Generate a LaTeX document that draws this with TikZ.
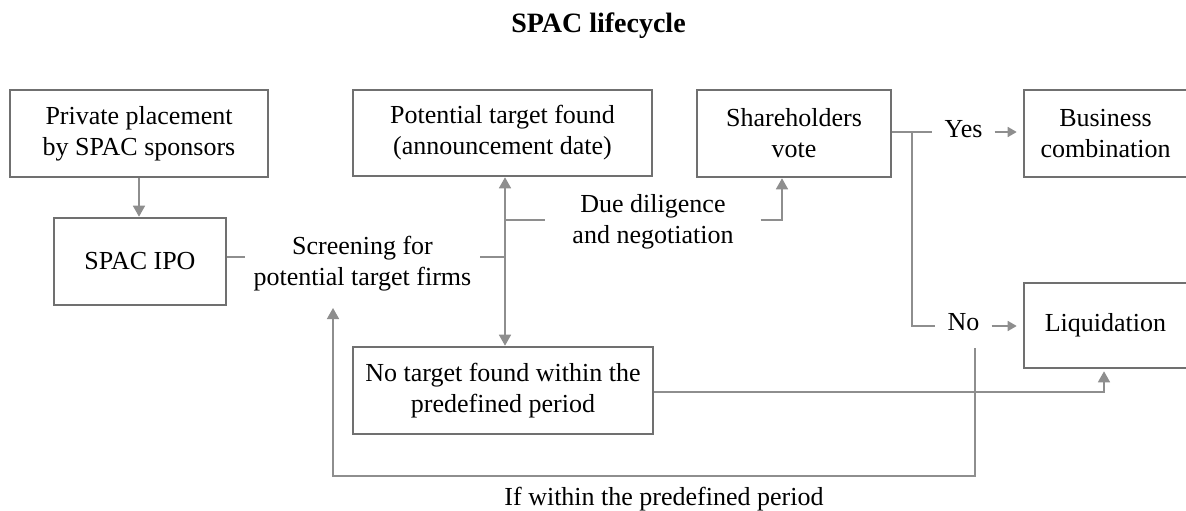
\documentclass[tikz,border=0pt]{standalone}
\usepackage{fontspec}
\setmainfont{Liberation Serif}
\usetikzlibrary{arrows.meta}
\definecolor{framegray}{HTML}{707070}
\definecolor{linkgray}{HTML}{8E8E8E}
\begin{document}
\begin{tikzpicture}[x=1pt,y=-1pt,
  every node/.style={font=\fontsize{26}{31}\selectfont},
  stage/.style={draw=framegray, line width=2.6pt, align=center, inner sep=0pt},
  lbl/.style={align=center, inner sep=0pt},
  link/.style={draw=linkgray, line width=1.6pt},
  >={Triangle[length=11pt,width=12pt]},
  small/.style={-{Triangle[length=9pt,width=10pt]}}
]
\useasboundingbox (0,0) rectangle (1186,511);

% stages of the lifecycle
\node[stage, minimum width=258pt, minimum height=87pt] (priv) at (139,133.5) {Private placement\\by SPAC sponsors};
\node[stage, minimum width=172pt, minimum height=87pt] (ipo) at (140,261.5) {SPAC IPO};
\node[stage, minimum width=299pt, minimum height=86pt] (pot) at (502.5,133) {Potential target found\\(announcement date)};
\node[stage, minimum width=194pt, minimum height=87pt] (share) at (794,133.5) {Shareholders\\vote};
\node[stage, minimum width=163pt, minimum height=87pt] (biz) at (1105.5,133.5) {Business\\combination};
\node[stage, minimum width=163pt, minimum height=85pt] (liq) at (1105.5,325.5) {Liquidation};
\node[stage, minimum width=300pt, minimum height=87pt] (notgt) at (503,390.5) {No target found within the\\predefined period};

% free labels
\node[font=\bfseries\fontsize{28}{34}\selectfont, anchor=base] (title) at (598.5,33) {SPAC lifecycle};
\node[lbl, inner xsep=9pt] (scr) at (362.5,263.4) {Screening for\\potential target firms};
\node[lbl, inner xsep=27pt] (dd) at (653,221.4) {Due diligence\\and negotiation};
\node[lbl, inner xsep=12pt, anchor=base] (yes) at (963.5,137) {Yes};
\node[lbl, inner xsep=12pt, anchor=base] (no) at (963.5,330.5) {No};
\node[lbl, anchor=base] (cond) at (664,505) {If within the predefined period};

% bends and junctions of the connectors
\coordinate (trunk) at (505,257);
\coordinate (ddin) at (505,220);
\coordinate (ddout) at (782,220);
\coordinate (vote) at (912,132);
\coordinate (fail) at (912,326);
\coordinate (back) at (975,348);
\coordinate (backr) at (975,476);
\coordinate (backl) at (333,476);
\coordinate (backtip) at (333,308);
\coordinate (lapse) at (1104,392);

% connectors
\draw[link, ->] (priv.south) -- (priv.south |- ipo.north);
\draw[link] (ipo.east |- trunk) -- (scr.west |- trunk);
\draw[link] (scr.east |- trunk) -- (trunk);
\draw[link, <->] (trunk |- pot.south) -- (trunk |- notgt.north);
\draw[link] (ddin) -- (dd.west |- ddin);
\draw[link, ->] (dd.east |- ddout) -- (ddout) -- (ddout |- share.south);
\draw[link] (share.east |- vote) -- (yes.west |- vote);
\draw[link] (vote) |- (no.west |- fail);
\draw[link, small, shorten >=6pt] (yes.east |- vote) -- (biz.west |- vote);
\draw[link, small, shorten >=6pt] (no.east |- fail) -- (liq.west |- fail);
\draw[link, ->] (back) -- (backr) -- (backl) -- (backtip);
\draw[link, ->, shorten >=2pt] (notgt.east |- lapse) -- (lapse) -- (lapse |- liq.south);
\end{tikzpicture}
\end{document}
